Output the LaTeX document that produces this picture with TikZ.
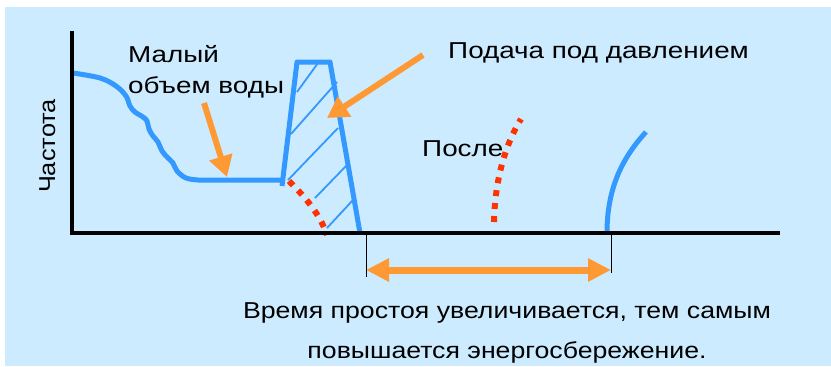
\documentclass[tikz,border=0pt]{standalone}
\usepackage{fontspec}
\setmainfont{Liberation Sans}
\usetikzlibrary{arrows.meta}
\definecolor{skyback}{HTML}{CCEBFF}
\definecolor{flowblue}{HTML}{3399FF}
\definecolor{arroworange}{HTML}{FF9933}
\definecolor{dotred}{HTML}{FF3300}

\begin{document}
\begin{tikzpicture}[x=1pt, y=-1pt, font=\fontsize{23}{27}\selectfont,
  flow/.style={flowblue, line width=5pt},
  hatch/.style={flowblue, line width=1.8pt},
  dotline/.style={dotred, line width=6pt, dash pattern=on 6pt off 7pt},
  pointer/.style={arroworange, line width=6pt, -{Triangle[width=23pt, length=21pt]}},
  span/.style={arroworange, line width=7pt,
    {Triangle[width=22pt, length=23pt]}-{Triangle[width=22pt, length=23pt]}},
  axis/.style={black, line width=4pt},
  caption/.style={inner sep=0pt, anchor=base west, xscale=1.21}]
  \useasboundingbox (0,0) rectangle (831,367);
  \fill[skyback] (5,7) rectangle (831,366);
  \foreach \a/\b in {{(297,92)}/{(318,63)}, {(291,134)}/{(337,82)},
                     {(288,180)}/{(338,128)}, {(315,198)}/{(347,165)},
                     {(327,228)}/{(353,200)}}{%
    \draw[hatch] \a -- \b;}
  \draw[flow, line join=round] plot[smooth, tension=0.6] coordinates
    {(73,73) (100,78) (116,86) (126,96) (130,106) (135,112) (143,117)
     (147,121) (149,129) (153,136) (158,142) (162,151) (168,158) (173,163)
     (177,171) (186,178) (198,180)} -- (284,180);
  \draw[flow, line join=round] (282,186) -- (297,62) -- (330,62) -- (360,233);
  \draw[dotline] (289,181) .. controls (305,197) and (320,214) .. (327,235);
  \draw[dotline] (494,222) .. controls (495,180) and (505,145) .. (521,119);
  \draw[flow] (607,233) .. controls (607,186) and (624,156) .. (646,132);
  \coordinate (ytop) at (72,31);
  \coordinate (origin) at (72,233);
  \coordinate (xend) at (780,233);
  \draw[axis] (ytop) -- (origin) -- (xend);
  \coordinate (idletop) at (366,233);
  \coordinate (idlebot) at (366,277);
  \coordinate (runtop) at (611,233);
  \coordinate (runbot) at (611,273);
  \draw[black, line width=1pt] (idletop) -- (idlebot);
  \draw[black, line width=1pt] (runtop) -- (runbot);
  \coordinate (spanleft) at (366,270);
  \coordinate (spanright) at (611,270);
  \draw[span] (spanleft) -- (spanright);
  \node[caption] (small) at (128,62) {Малый};
  \node[caption] (water) at (128,93) {объем воды};
  \coordinate (smalltail) at (204,103);
  \coordinate (smalltip) at (227,177);
  \draw[pointer] (smalltail) -- (smalltip);
  \node[caption] (feed) at (448,58) {Подача под давлением};
  \coordinate (feedtail) at (423,55);
  \coordinate (feedtip) at (327,118);
  \draw[pointer] (feedtail) -- (feedtip);
  \node[caption] (after) at (422,156) {После};
  \node[inner sep=0pt, anchor=base, rotate=90, xscale=1.1] (freq) at (55,146) {Частота};
  \node[inner sep=0pt, anchor=base, xscale=1.16] (gain1) at (507,318)
    {Время простоя увеличивается, тем самым};
  \node[inner sep=0pt, anchor=base, xscale=1.16] (gain2) at (507,358)
    {повышается энергосбережение.};
\end{tikzpicture}
\end{document}
